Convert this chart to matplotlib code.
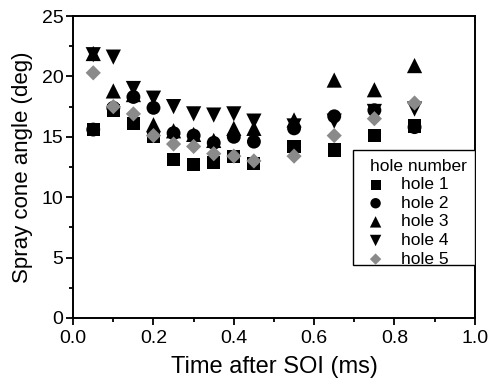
import matplotlib
matplotlib.use('Agg')
import matplotlib.pyplot as plt
from matplotlib.ticker import MultipleLocator
from matplotlib.patches import Rectangle

plt.rcParams['font.family'] = ['Liberation Sans', 'DejaVu Sans']

# time after start of injection (ms)
time_ms = [0.05, 0.1, 0.15, 0.2, 0.25, 0.3, 0.35, 0.4, 0.45, 0.55, 0.65, 0.75, 0.85]

# spray cone angle (deg) per hole
hole1 = [15.6, 17.2, 16.1, 15.0, 13.1, 12.7, 12.9, 13.4, 12.8, 14.2, 13.9, 15.1, 15.9]
hole2 = [15.6, 17.4, 18.3, 17.4, 15.3, 15.1, 14.5, 15.0, 14.6, 15.7, 16.7, 17.2, 15.8]
hole3 = [21.9, 18.8, 18.5, 16.0, 15.5, 15.2, 14.7, 15.7, 15.7, 16.4, 19.7, 18.9, 20.9]
hole4 = [21.8, 21.6, 19.0, 18.2, 17.5, 16.9, 16.8, 16.9, 16.3, 15.9, 16.3, 17.1, 17.3]
hole5 = [20.3, 17.5, 16.9, 15.1, 14.4, 14.2, 13.6, 13.4, 13.0, 13.4, 15.1, 16.5, 17.8]

series = [
    ('hole 1', hole1, 's', 'black', 90),
    ('hole 2', hole2, 'o', 'black', 100),
    ('hole 3', hole3, '^', 'black', 120),
    ('hole 4', hole4, 'v', 'black', 120),
    ('hole 5', hole5, 'D', '#8a8a8a', 60),
]

fig = plt.figure(figsize=(4.91, 3.83), dpi=100)
ax = fig.add_axes([0.149, 0.170, 0.818, 0.788])

for label, vals, mk, col, size in series:
    ax.scatter(time_ms, vals, marker=mk, s=size, color=col, edgecolors='none', label=label)

ax.set_xlim(0, 1.0)
ax.set_ylim(0, 25)
ax.xaxis.set_major_locator(MultipleLocator(0.2))
ax.xaxis.set_minor_locator(MultipleLocator(0.1))
ax.yaxis.set_major_locator(MultipleLocator(5))
ax.yaxis.set_minor_locator(MultipleLocator(2.5))
ax.xaxis.set_major_formatter(plt.FuncFormatter(lambda v, p: f'{v:.1f}'))
ax.tick_params(which='both', direction='out', top=False, right=False, labelsize=14, width=1.3)
ax.tick_params(which='major', length=5)
ax.tick_params(axis='x', which='major', pad=4)
ax.tick_params(axis='y', which='major', pad=2)
ax.tick_params(which='minor', length=3)
for sp in ax.spines.values():
    sp.set_linewidth(1.4)

ax.set_xlabel('Time after SOI (ms)', fontsize=17, labelpad=6)
ax.set_ylabel('Spray cone angle (deg)', fontsize=16, labelpad=6)

# legend box drawn by hand so it runs to the right spine like the original
ax.add_patch(Rectangle((0.697, 0.175), 0.303, 0.381, transform=ax.transAxes,
                       facecolor='white', edgecolor='black', linewidth=1.0, zorder=4))
leg = ax.legend(title='hole number', loc='upper left', bbox_to_anchor=(0.74, 0.528),
                fontsize=12.5, title_fontsize=12.5, frameon=False,
                handletextpad=1.15, handlelength=0.6, labelspacing=0.2, borderpad=0,
                borderaxespad=0, scatterpoints=1, markerscale=0.75)
leg._legend_box.align = 'left'
leg.set_zorder(5)

fig.savefig('out.png', dpi=100)
